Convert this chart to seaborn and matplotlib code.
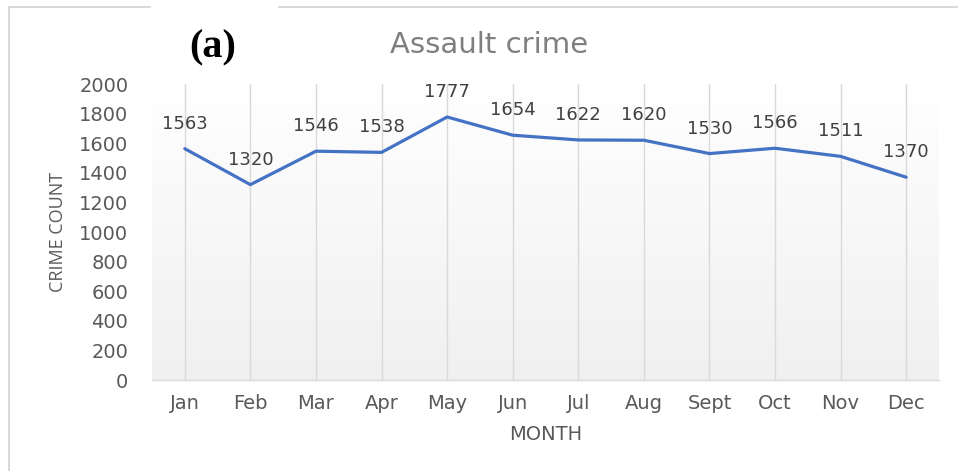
import matplotlib
matplotlib.use("Agg")
import matplotlib.pyplot as plt
import seaborn as sns
import numpy as np
import pandas as pd
from matplotlib.lines import Line2D

months = ["Jan", "Feb", "Mar", "Apr", "May", "Jun", "Jul", "Aug", "Sept", "Oct", "Nov", "Dec"]
crime_count = [1563, 1320, 1546, 1538, 1777, 1654, 1622, 1620, 1530, 1566, 1511, 1370]

df = pd.DataFrame({"MONTH": months, "CRIME COUNT": crime_count})

sns.set_theme(style="white")
plt.rcParams["font.family"] = ["DejaVu Sans"]

fig = plt.figure(figsize=(9.58, 4.71), dpi=100)
ax = fig.add_axes([152 / 958, 1 - 380 / 471, (939 - 152) / 958, (380 - 84) / 471])

# faint gradient fill behind the plot area (Excel style)
grad = np.linspace(0, 1, 256).reshape(-1, 1)
cmap = matplotlib.colors.LinearSegmentedColormap.from_list("g", ["#ffffff", "#f0f0f0"])
ax.imshow(grad, extent=[-0.5, 11.5, 0, 2000], aspect="auto", cmap=cmap, origin="upper", zorder=0)

sns.lineplot(data=df, x="MONTH", y="CRIME COUNT", ax=ax, color="#4472C4", linewidth=2.3, sort=False, zorder=3)

ax.set_xlim(-0.5, 11.5)
ax.set_ylim(0, 2000)
ax.set_yticks(range(0, 2001, 200))
ax.set_xticks(range(len(months)))
ax.set_xticklabels(months)

for i in range(len(months)):
    ax.axvline(i, color="#d9d9d9", linewidth=1, zorder=1)

for i, v in enumerate(crime_count):
    ax.annotate(str(v), (i, v), xytext=(0, 18), textcoords="offset points",
                ha="center", va="center", fontsize=13, color="#404040")

for s in ["top", "right", "left"]:
    ax.spines[s].set_visible(False)
ax.spines["bottom"].set_color("#d9d9d9")
ax.spines["bottom"].set_linewidth(1)
ax.tick_params(axis="both", length=0, labelsize=14, colors="#595959")
ax.tick_params(axis="x", pad=10)
ax.tick_params(axis="y", pad=17)
ax.set_xlabel("MONTH", fontsize=14, color="#595959", labelpad=9)
ax.set_ylabel("CRIME COUNT", fontsize=13, color="#595959", labelpad=9, family=["Open Sans", "DejaVu Sans"])

fig.text(489 / 958, 1 - 45 / 471, "Assault crime", ha="center", va="center", fontsize=21, color="#7f7f7f")
fig.text(213 / 958, 1 - 48 / 471, "(a)", ha="center", va="center", fontsize=29, fontweight="bold",
         family=["Liberation Serif", "DejaVu Serif"], color="black")

# frame around the figure with a gap at the top left
fig.add_artist(Line2D([9 / 958, 9 / 958], [0, 1 - 7 / 471], transform=fig.transFigure, color="#d9d9d9", linewidth=1.5))
fig.add_artist(Line2D([9 / 958, 150 / 958], [1 - 7 / 471] * 2, transform=fig.transFigure, color="#d9d9d9", linewidth=1.5))
fig.add_artist(Line2D([279 / 958, 1], [1 - 7 / 471] * 2, transform=fig.transFigure, color="#d9d9d9", linewidth=1.5))

fig.savefig("out.png", dpi=100)
